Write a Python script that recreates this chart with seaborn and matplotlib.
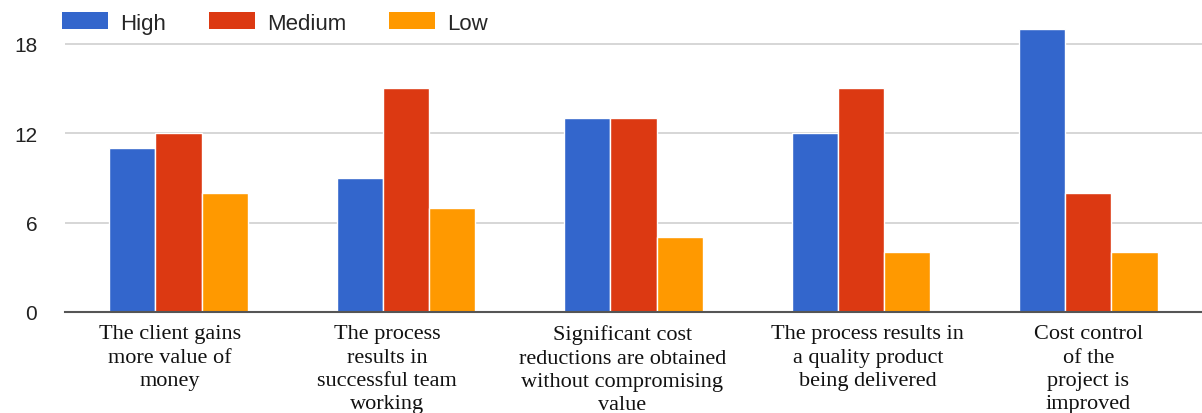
import matplotlib
matplotlib.use("Agg")
import matplotlib.pyplot as plt
from matplotlib.patches import Patch
from matplotlib.transforms import ScaledTranslation
import seaborn as sns
import pandas as pd

categories = [
    "The client gains\nmore value of\nmoney",
    "The process\nresults in\nsuccessful team\nworking",
    "Significant cost\nreductions are obtained\nwithout compromising\nvalue",
    "The process results in\na quality product\nbeing delivered",
    "Cost control\nof the\nproject is\nimproved",
]
levels = ["High", "Medium", "Low"]
high = [11, 9, 13, 12, 19]
medium = [12, 15, 13, 15, 8]
low = [8, 7, 5, 4, 4]
yticks = [0, 6, 12, 18]

colors = ["#3366CC", "#DC3912", "#FF9900"]
# horizontal nudge (pixels) for each category label
label_shift = [-9, -19, -11, 7, 0]

df = pd.DataFrame({
    "category": categories * 3,
    "level": [levels[0]] * 5 + [levels[1]] * 5 + [levels[2]] * 5,
    "count": high + medium + low,
})

sns.set_theme(style="white")
fig = plt.figure(figsize=(12.02, 4.14), dpi=100)
ax = fig.add_axes([0.054, 0.244, 0.946, 0.72])

sns.barplot(data=df, x="category", y="count", hue="level", order=categories,
            hue_order=levels, palette=colors, width=0.61, ax=ax,
            edgecolor="white", linewidth=1.0, saturation=1, legend=False)

ax.set_xlim(-0.5, 4.5)
ax.set_ylim(0, 20)
ax.set_yticks(yticks)
ax.set_xlabel("")
ax.set_ylabel("")
ax.yaxis.grid(True, color="#d0d0d0", linewidth=1.2)
ax.set_axisbelow(True)
for s in ["top", "right", "left"]:
    ax.spines[s].set_visible(False)
ax.spines["bottom"].set_color("#555555")
ax.spines["bottom"].set_linewidth(1.5)
ax.spines["bottom"].set_zorder(5)
ax.tick_params(axis="y", length=0, pad=20, labelsize=15, labelcolor="#222222")
ax.tick_params(axis="x", length=0, pad=9)
for lab in ax.get_yticklabels():
    lab.set_fontfamily("Liberation Sans")
for lab, dx in zip(ax.get_xticklabels(), label_shift):
    lab.set_fontfamily("Liberation Serif")
    lab.set_fontsize(16)
    lab.set_linespacing(1.3)
    lab.set_color("#111111")
    lab.set_transform(lab.get_transform() + ScaledTranslation(dx / 100, 0, fig.dpi_scale_trans))

handles = [Patch(facecolor=c, edgecolor="none") for c in colors]
fig.legend(handles, levels, loc="center left", bbox_to_anchor=(0.0516, 1 - 24 / 414),
           ncol=3, frameon=False, handlelength=2.07, handleheight=0.77,
           handletextpad=0.54, columnspacing=1.94, borderpad=0, borderaxespad=0,
           prop={"family": "Liberation Sans", "size": 16})

fig.savefig("out.png", dpi=100)
